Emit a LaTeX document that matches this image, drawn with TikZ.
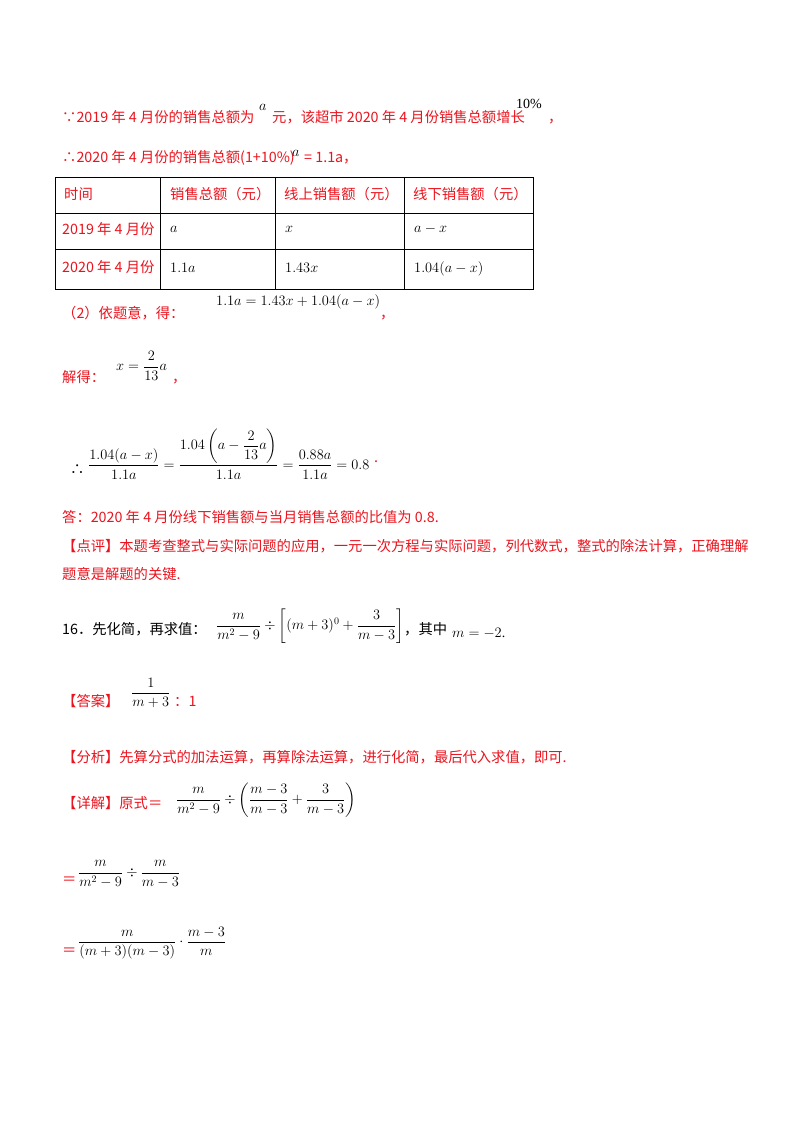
\documentclass[tikz,border=0pt]{standalone}
\usepackage{amsmath}
\usepackage{fontspec}
\setmainfont{Liberation Serif}
\newfontfamily\cjk{Noto Sans CJK SC}
\definecolor{rd}{RGB}{235,20,30}
\begin{document}
\begin{tikzpicture}[x=1pt,y=-1pt,
  t/.style={anchor=base west,inner sep=0pt,font=\cjk\fontsize{14.3}{15}\selectfont},
  r/.style={t,text=rd},
  m/.style={anchor=base west,inner sep=0pt,font=\fontsize{14}{16}\selectfont},
  mc/.style={anchor=west,inner sep=0pt,font=\fontsize{14}{16}\selectfont}]
\useasboundingbox[fill=white] (0,0) rectangle (800,1132);
% line 1
\node[r] (l1a) at (62,122) {∵2019 年 4 月份的销售总额为};
\node[m] (l1b) at (259,110) {$a$};
\node[r] (l1c) at (272,122) {元，该超市 2020 年 4 月份销售总额增长};
\node[m] (l1d) at (516,108) {10\%};
\node[r] (l1e) at (548,122) {，};
% line 2
\node[r] (l2a) at (62,162) {∴2020 年 4 月份的销售总额(1+10\%)};
\node[m] (l2b) at (292,156) {$a$};
\node[r] (l2c) at (304,162) {= 1.1a，};
% table
\draw[line width=1pt] (55,177) rectangle (533,289);
\draw[line width=0.8pt] (55,213) -- (533,213) (55,249) -- (533,249)
  (160,177) -- (160,289) (275,177) -- (275,289) (404,177) -- (404,289);
\node[r] (h1) at (64,199) {时间};
\node[r] (h2) at (170,199) {销售总额（元）};
\node[r] (h3) at (284,199) {线上销售额（元）};
\node[r] (h4) at (413,199) {线下销售额（元）};
\node[r] (a1) at (62,234) {2019 年 4 月份};
\node[m] (a2) at (170,232) {$a$};
\node[m] (a3) at (285,232) {$x$};
\node[m] (a4) at (414,232) {$a-x$};
\node[r] (b1) at (62,272) {2020 年 4 月份};
\node[m] (b2) at (170,272) {$1.1a$};
\node[m] (b3) at (285,272) {$1.43x$};
\node[m] (b4) at (414,272) {$1.04(a-x)$};
% (2)
\node[r] (p2) at (62,318) {（2）依题意，得：};
\node[m] (p2e) at (216,305) {$1.1a=1.43x+1.04(a-x)$};
\node[r] (p2c) at (380,318) {，};
% solve
\node[r] (s1) at (62,382) {解得：};
\node[mc] (s2) at (116,366) {$x=\dfrac{2}{13}a$};
\node[r] (s3) at (172,382) {，};
% ratio
\node[t] (th) at (70,474) {∴};
\node[mc] (rat) at (88,454) {$\dfrac{1.04(a-x)}{1.1a}=\dfrac{1.04\left(a-\dfrac{2}{13}a\right)}{1.1a}=\dfrac{0.88a}{1.1a}=0.8$};
\node[r] (rd) at (374,462) {.};
\node[r] (ans) at (62,522) {答：2020 年 4 月份线下销售额与当月销售总额的比值为 0.8.};
\node[r] (dp1) at (62,551) {【点评】本题考查整式与实际问题的应用，一元一次方程与实际问题，列代数式，整式的除法计算，正确理解};
\node[r] (dp2) at (62,579) {题意是解题的关键.};
% 16
\node[t] (q16) at (62,634) {16．先化简，再求值：};
\node[mc] (q16e) at (216,626) {$\dfrac{m}{m^2-9}\div\left[(m+3)^0+\dfrac{3}{m-3}\right]$};
\node[t] (q16b) at (404,634) {，其中};
\node[m] (q16c) at (452,637) {$m=-2$.};
\node[r] (da) at (62,706) {【答案】};
\node[mc] (dae) at (131,693) {$\dfrac{1}{m+3}$};
\node[r] (dab) at (174,706) {：1};
\node[r] (fx) at (62,762) {【分析】先算分式的加法运算，再算除法运算，进行化简，最后代入求值，即可.};
\node[r] (xj) at (62,808) {【详解】原式＝};
\node[mc] (xje) at (176,800) {$\dfrac{m}{m^2-9}\div\left(\dfrac{m-3}{m-3}+\dfrac{3}{m-3}\right)$};
\node[r] (e1) at (62,884) {＝};
\node[mc] (e1e) at (78,874) {$\dfrac{m}{m^2-9}\div\dfrac{m}{m-3}$};
\node[r] (e2) at (62,955) {＝};
\node[mc] (e2e) at (78,943) {$\dfrac{m}{(m+3)(m-3)}\cdot\dfrac{m-3}{m}$};
\end{tikzpicture}
\end{document}
